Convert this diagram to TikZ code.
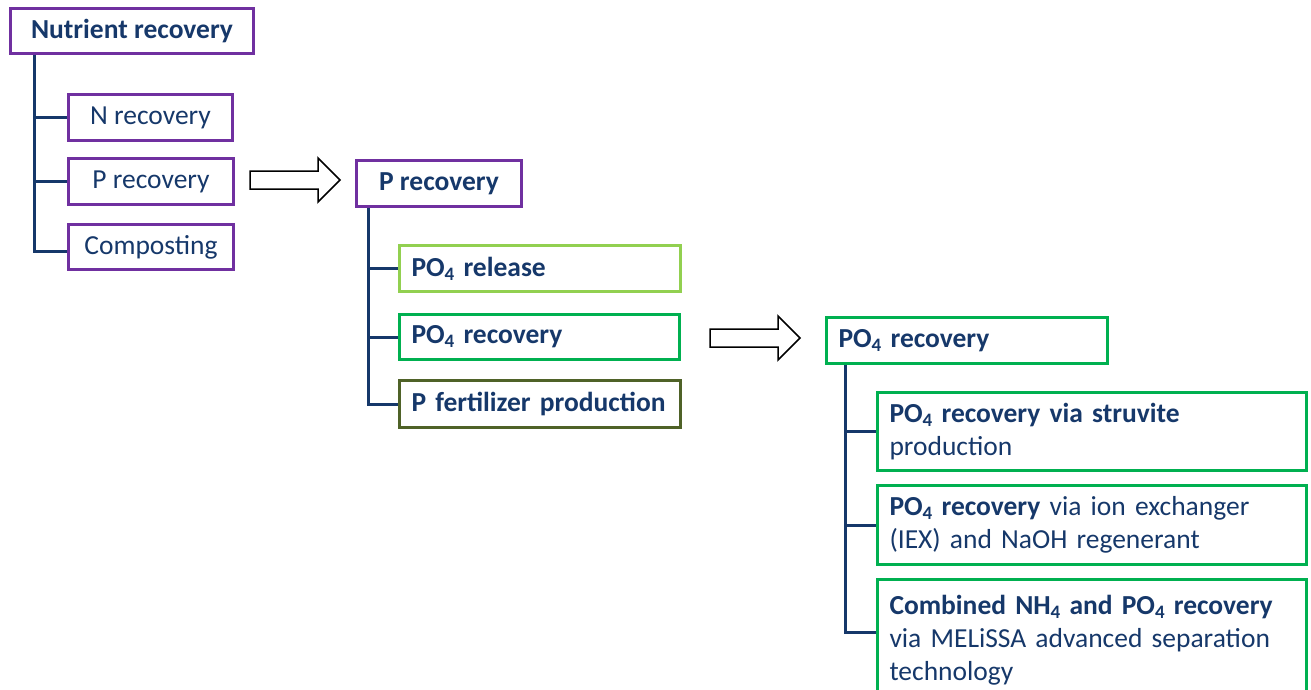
\documentclass[tikz,border=0pt]{standalone}
\usepackage{fontspec}
\setmainfont{Carlito}
\usepackage{xcolor}
\definecolor{navy}{HTML}{16386A}
\definecolor{violet2}{HTML}{7030A0}
\definecolor{lgreen}{HTML}{92D050}
\definecolor{green2}{HTML}{00B050}
\definecolor{olive2}{HTML}{4F6228}
\newcommand\boxsz{\fontsize{27.5}{33}\selectfont}
\newcommand\lowsub[1]{\raisebox{-0.28ex}{\fontsize{19}{19}\selectfont #1}}

\tikzset{
  box/.style={draw=violet2, line width=3pt, anchor=north west, inner sep=0pt, text=navy, font=\boxsz},
  leftbox/.style={box, align=left, inner xsep=12pt},
  tree/.style={draw=navy, line width=3pt},
  blockarrow/.style={draw=black, line width=1.5pt, fill=white, line join=miter}
}

\begin{document}
\begin{tikzpicture}[x=1pt,y=-1pt]
        \useasboundingbox (0,0) rectangle (1311,690);
        \clip (0,0) rectangle (1311,690);
        % first level
        \node[box, font=\boxsz\bfseries, minimum width=243, minimum height=45](nutr) at (9,7) {Nutrient recovery};
        \node[box, minimum width=164, minimum height=46](nrec) at (67,93) {N recovery};
        \node[box, minimum width=165, minimum height=46](prec) at (67,157) {P recovery};
        \node[box, minimum width=165, minimum height=45](comp) at (67,223) {Composting};
        \draw[tree]([xshift=25pt]nutr.south west) |- (nrec.west);
        \draw[tree]([xshift=25pt]nutr.south west) |- (prec.west);
        \draw[tree]([xshift=25pt]nutr.south west) |- ([yshift=-4pt]comp.west);
        % second level
        \node[box, font=\boxsz\bfseries, minimum width=165, minimum height=46](prectop) at (355,159) {P recovery};
        \node[leftbox, draw=lgreen, font=\boxsz\bfseries, text width=257, minimum height=46](release) at (398,244) {PO\lowsub{4} release};
        \node[leftbox, draw=green2, font=\boxsz\bfseries, text width=256, minimum height=45](porec) at (398,313) {PO\lowsub{4} recovery};
        \node[leftbox, draw=olive2, font=\boxsz\bfseries, text width=257, minimum height=47](fert) at (398,379) {P fertilizer production};
        \draw[tree]([xshift=13pt]prectop.south west) |- (release.west);
        \draw[tree]([xshift=13pt]prectop.south west) |- (porec.west);
        \draw[tree]([xshift=13pt]prectop.south west) |- (fert.west);
        % third level
        \node[leftbox, draw=green2, font=\boxsz\bfseries, text width=257, minimum height=46](porectop) at (825,316) {PO\lowsub{4} recovery};
        \node[leftbox, draw=green2, text width=405, minimum height=78](struv) at (876,391) {{\bfseries PO\lowsub{4} recovery via struvite}\\production};
        \node[leftbox, draw=green2, text width=405, minimum height=79](iex) at (876,484) {{\bfseries PO\lowsub{4} recovery} via ion exchanger\\(IEX) and NaOH regenerant};
        \node[leftbox, draw=green2, text width=405, minimum height=122](comb) at (876,578) {{\bfseries Combined NH\lowsub{4} and PO\lowsub{4} recovery}\\via MELiSSA advanced separation\\technology};
        \draw[tree]([xshift=20pt]porectop.south west) |- (struv.west);
        \draw[tree]([xshift=20pt]porectop.south west) |- (iex.west);
        \draw[tree]([xshift=20pt]porectop.south west) |- ([yshift=8pt]comb.west);
        % arrows between levels
        \foreach \ax/\ay in {250/180, 710/338} {
          \draw[blockarrow](\ax,\ay-9) -- ++(68,0) -- ++(0,-13) -- (\ax+90,\ay) -- (\ax+68,\ay+22) -- ++(0,-13) -- (\ax,\ay+9) -- cycle;
        }
        \end{tikzpicture}
\end{document}
